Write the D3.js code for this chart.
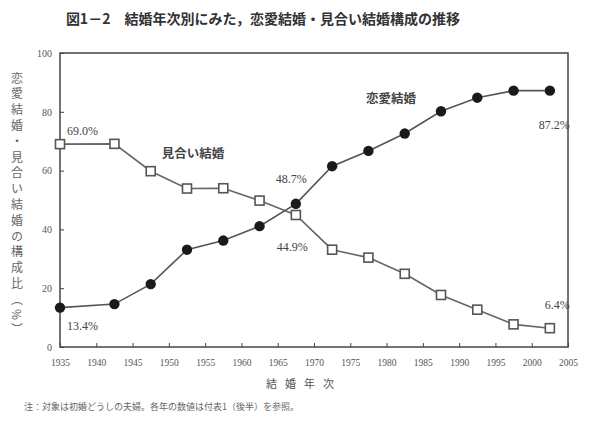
<!DOCTYPE html>
<html><head><meta charset="utf-8">
<script src="https://cdn.jsdelivr.net/npm/d3@7"></script>
<style>
body{margin:0;background:#fff;}
svg{display:block;}
</style></head>
<body>
<svg id="c" width="600" height="428"></svg>
<script>
// Data
const years = [1935, 1942.5, 1947.5, 1952.5, 1957.5, 1962.5, 1967.5, 1972.5, 1977.5, 1982.5, 1987.5, 1992.5, 1997.5, 2002.5];
const loveMarriage = [13.4, 14.6, 21.4, 33.1, 36.2, 41.1, 48.7, 61.5, 66.7, 72.6, 80.2, 84.8, 87.2, 87.2];
const arrangedMarriage = [69.0, 69.1, 59.8, 53.9, 54.0, 49.8, 44.9, 33.1, 30.4, 24.9, 17.7, 12.7, 7.7, 6.4];
const xTicks = [1935, 1940, 1945, 1950, 1955, 1960, 1965, 1970, 1975, 1980, 1985, 1990, 1995, 2000, 2005];
const yTicks = [0, 20, 40, 60, 80, 100];

const svg = d3.select("#c");
const m = {l: 60, r: 32, t: 53, b: 81};
const W = 600, H = 428;
const x = d3.scaleLinear().domain([1935, 2005]).range([m.l, W - m.r]);
const y = d3.scaleLinear().domain([0, 100]).range([H - m.b, m.t]);
const serif = "'Liberation Serif', 'DejaVu Serif', serif";
const cjk = "'Noto Sans CJK JP', sans-serif";

// Title
svg.append("text").attr("x", 263).attr("y", 24).attr("text-anchor", "middle")
  .attr("font-family", cjk).attr("font-weight", "bold").attr("font-size", 14).attr("fill", "#333")
  .text("図1－2　結婚年次別にみた，恋愛結婚・見合い結婚構成の推移");

// Frame
svg.append("rect").attr("x", x(1935)).attr("y", y(100))
  .attr("width", x(2005) - x(1935)).attr("height", y(0) - y(100))
  .attr("fill", "none").attr("stroke", "#444").attr("stroke-width", 1.5);

// Axes
const yAxis = d3.axisLeft(y).tickValues(yTicks).tickSize(-4).tickPadding(8);
const gy = svg.append("g").attr("transform", `translate(${x(1935)},0)`).call(yAxis);
gy.select(".domain").remove();
gy.selectAll("text").attr("font-family", serif).attr("font-size", 10).attr("fill", "#555");
gy.selectAll("line").attr("stroke", "#444");

const xAxis = d3.axisBottom(x).tickValues(xTicks).tickFormat(d3.format("d")).tickSize(-4).tickPadding(12);
const gx = svg.append("g").attr("transform", `translate(0,${y(0)})`).call(xAxis);
gx.select(".domain").remove();
gx.selectAll("text").attr("font-family", serif).attr("font-size", 9.5).attr("fill", "#555");
gx.selectAll("line").attr("stroke", "#444");

// Axis titles
svg.append("text").attr("x", 304).attr("y", 388).attr("text-anchor", "middle")
  .attr("font-family", cjk).attr("font-size", 11).attr("fill", "#555")
  .attr("letter-spacing", 8).text("結婚年次");

svg.append("text").attr("transform", "translate(17,72)")
  .attr("font-family", cjk).attr("font-size", 12).attr("fill", "#666")
  .style("writing-mode", "vertical-rl").attr("letter-spacing", 3.8)
  .text("恋愛結婚・見合い結婚の構成比（%）");

// Footnote
svg.append("text").attr("x", 24).attr("y", 410)
  .attr("font-family", cjk).attr("font-size", 9).attr("fill", "#666")
  .text("注：対象は初婚どうしの夫婦。各年の数値は付表1（後半）を参照。");

// Lines
const line = d3.line().x((d, i) => x(years[i])).y(d => y(d));
svg.append("path").datum(arrangedMarriage).attr("d", line)
  .attr("fill", "none").attr("stroke", "#666").attr("stroke-width", 1.6);
svg.append("path").datum(loveMarriage).attr("d", line)
  .attr("fill", "none").attr("stroke", "#555").attr("stroke-width", 1.6);

// Markers
svg.selectAll("rect.sq").data(arrangedMarriage).enter().append("rect").attr("class", "sq")
  .attr("x", (d, i) => x(years[i]) - 4.5).attr("y", d => y(d) - 4.5)
  .attr("width", 9).attr("height", 9)
  .attr("fill", "#fff").attr("stroke", "#555").attr("stroke-width", 1.6);
svg.selectAll("circle.dot").data(loveMarriage).enter().append("circle").attr("class", "dot")
  .attr("cx", (d, i) => x(years[i])).attr("cy", d => y(d)).attr("r", 5.2)
  .attr("fill", "#1a1a1a");

// Labels
const lab = (tx, ty, t, font, size, anchor, weight) =>
  svg.append("text").attr("x", tx).attr("y", ty).attr("text-anchor", anchor || "start")
    .attr("font-family", font).attr("font-size", size).attr("font-weight", weight || "normal")
    .attr("fill", "#444").text(t);

lab(x(years[0]) + 7, y(arrangedMarriage[0]) - 9, arrangedMarriage[0].toFixed(1) + "%", serif, 12);
lab(x(years[0]) + 7, y(loveMarriage[0]) + 22, loveMarriage[0].toFixed(1) + "%", serif, 12);
lab(x(years[6]) - 20, y(loveMarriage[6]) - 21, loveMarriage[6].toFixed(1) + "%", serif, 12);
lab(x(years[6]) - 19, y(arrangedMarriage[6]) + 36, arrangedMarriage[6].toFixed(1) + "%", serif, 12);
lab(x(years[13]) + 20, y(loveMarriage[13]) + 38, loveMarriage[13].toFixed(1) + "%", serif, 12, "end");
lab(x(years[13]) + 20, y(arrangedMarriage[13]) - 19, arrangedMarriage[13].toFixed(1) + "%", serif, 12, "end");
lab(193, 158, "見合い結婚", cjk, 12.5, "middle", "bold");
lab(391, 103, "恋愛結婚", cjk, 12.5, "middle", "bold");
</script>
</body></html>
